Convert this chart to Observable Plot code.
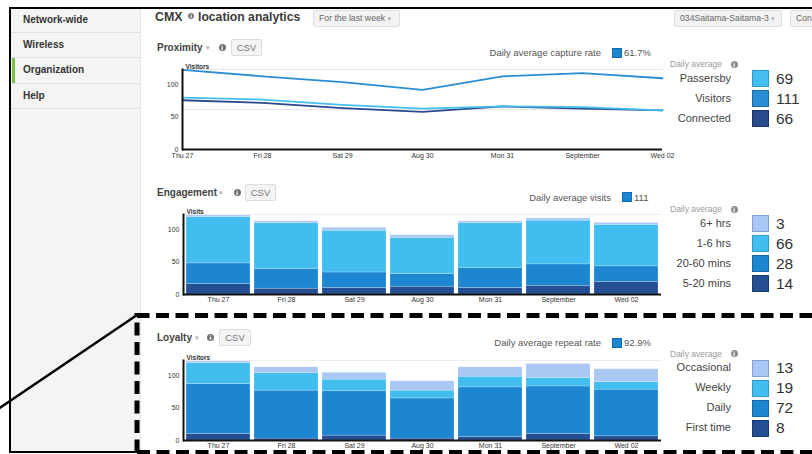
<!DOCTYPE html>
<html><head><meta charset="utf-8">
<script src="https://cdn.jsdelivr.net/npm/d3@7"></script>
<script src="https://cdn.jsdelivr.net/npm/@observablehq/plot@0.6"></script>
<style>
html,body{margin:0;padding:0;background:#fff;}
#root{position:relative;width:812px;height:454px;overflow:hidden;font-family:"Liberation Sans",Arial,sans-serif;background:#fff;}
.a{position:absolute;}
.clip{position:absolute;}
.clip svg{max-width:none !important;overflow:visible;}
</style></head>
<body><div id="root"></div>
<script>
// ---------- data ----------
const days = ["Thu 27","Fri 28","Sat 29","Aug 30","Mon 31","September","Wed 02"];
const yTicks = [0, 50, 100];
const yMax = 123.5;

const proxSeries = ["Passersby","Visitors","Connected"];
const proxColors = ["#45bff0","#2a8ed4","#294b8c"];
const passersby = [80, 77, 69, 63, 66.5, 65.5, 60.5];
const visitors  = [123, 113, 104, 92, 113, 118, 110];
const connected = [76, 72, 64, 58, 66.5, 63, 60.5];
const proxAvg = [69, 111, 66];
const captureRate = "61.7%";
const captureLine = 61.7;

const engGroups = ["5-20 mins","20-60 mins","1-6 hrs","6+ hrs"]; // bottom -> top
const engColors = ["#244f92","#1c87d0","#42bdef","#a9c8f4"];
const eng5to20  = [16, 9, 10, 12, 10, 13.5, 19.5];
const eng20to60 = [32, 30.5, 24, 19.5, 30.5, 33, 24];
const eng1to6   = [71.5, 70.5, 64.5, 56, 69.5, 67.5, 64];
const eng6plus  = [2.5, 3, 4.5, 4, 3, 3.5, 3];
const engAvg = [14, 28, 66, 3];
const avgVisits = "111";

const loyGroups = ["First time","Daily","Weekly","Occasional"]; // bottom -> top
const loyColors = ["#244f92","#1c87d0","#42bdef","#a9c8f4"];
const loyFirst      = [10, 3, 7.5, 3, 5.5, 10, 6.5];
const loyDaily      = [77, 74, 68.5, 62, 76.5, 73.5, 72];
const loyWeekly     = [32.5, 27, 18, 12, 16.5, 13, 11.5];
const loyOccasional = [2.5, 9, 10.5, 14.5, 14.5, 21.5, 20];
const loyAvg = [8, 72, 19, 13];
const repeatRate = "92.9%";

const navItems = ["Network-wide","Wireless","Organization","Help"];

// ---------- helpers ----------
const root = document.getElementById("root");
function el(css, text) {
  const d = document.createElement("div");
  d.className = "a";
  d.style.cssText += css;
  if (text != null) d.textContent = text;
  root.appendChild(d);
  return d;
}
function txt(s, x, cy, o = {}) {
  const fs = o.size || 10;
  const lh = Math.round(fs * 1.2);
  let css = `white-space:nowrap;line-height:${lh}px;top:${cy - lh/2}px;font-size:${fs}px;color:${o.color||"#444"};font-weight:${o.bold?"bold":"normal"};`;
  css += o.align === "right" ? `right:${812 - x}px;` : `left:${x}px;`;
  return el(css, s);
}
function info(cx, cy, d = 7, bg = "#6f6f6f") {
  return el(`left:${cx-d/2}px;top:${cy-d/2}px;width:${d}px;height:${d}px;border-radius:50%;background:${bg};color:#fff;font:bold ${d-1}px/${d}px "DejaVu Sans",sans-serif;text-align:center;`, "i");
}
function button(label, x, y, w, h, fs, caret) {
  const b = el(`left:${x}px;top:${y}px;width:${w}px;height:${h}px;background:#f3f3f3;border:1px solid #dedede;box-sizing:border-box;border-radius:2px;font-size:${fs}px;line-height:${h-2}px;color:#666;white-space:nowrap;overflow:hidden;padding-left:5px;`);
  b.textContent = label;
  if (caret) { const c = document.createElement("span"); c.textContent = " ▾"; c.style.cssText = "color:#aaa;font-size:7px;font-family:'DejaVu Sans';"; b.appendChild(c); }
  return b;
}
function csv(x, y, w) {
  return el(`left:${x}px;top:${y}px;width:${w}px;height:17px;background:#f4f4f4;border:1px solid #dcdcdc;box-sizing:border-box;border-radius:2px;font-size:9.5px;line-height:15px;color:#777;text-align:center;`, "CSV");
}
function square(x, y, s, fill, border) {
  return el(`left:${x}px;top:${y}px;width:${s}px;height:${s}px;background:${fill};border:1px solid ${border};box-sizing:border-box;`);
}
function caret(x, cy) { return txt("▾", x, cy, {size: 7, color: "#b0b0b0"}); }

// ---------- frame / sidebar ----------
el("left:10px;top:8px;width:130px;height:443px;background:#f4f4f4;border-right:1px solid #e4e4e4;");
const navTops = [8, 33, 58, 84];
navItems.forEach((n, i) => {
  el(`left:10px;top:${navTops[i]}px;width:130px;height:${i===2?25:24}px;border-bottom:1px solid #e0e0e0;`);
  txt(n, 23, navTops[i] + 12, {size: 10, bold: true, color: "#333"});
});
el("left:12px;top:58px;width:3px;height:25px;background:#7cc242;");
el("left:9px;top:6.5px;width:803px;height:2px;background:#000;");
el("left:9px;top:7px;width:2px;height:445px;background:#000;");
el("left:9px;top:450.5px;width:130px;height:2px;background:#000;");

// ---------- header ----------
txt("CMX", 155, 17, {size: 12.4, bold: true, color: "#3b3b3b"});
info(191, 15.5, 6, "#777");
txt("location analytics", 198, 17, {size: 12.2, bold: true, color: "#3b3b3b"});
button("For the last week", 313, 10, 87, 17, 8.7, true);
button("034Saitama-Saitama-3", 674, 10, 108, 17, 8.7, true);
button("Con", 790, 10, 40, 17, 8.7, false);

// ---------- section headers ----------
function sectionHeader(title, cy, caretX, infoX, csvX, csvW, sumLabel, sumRight, sumCy, sumVal) {
  txt(title, 157, cy, {size: 10, bold: true, color: "#444"});
  caret(caretX, cy);
  info(infoX, cy, 7);
  csv(csvX, cy - 8.5, csvW);
  txt(sumLabel, sumRight, sumCy, {size: 9.5, color: "#555", align: "right"});
  square(sumRight + 11, sumCy - 5, 10, "#1c87d0", "#1569ad");
  txt(sumVal, sumRight + 23, sumCy, {size: 9.5, color: "#555"});
}
sectionHeader("Proximity", 47.5, 206, 222, 231, 31, "Daily average capture rate", 601, 52.5, captureRate);
sectionHeader("Engagement", 192.5, 219, 237, 245, 31, "Daily average visits", 611, 197, avgVisits);
sectionHeader("Loyalty", 337.5, 195, 210.5, 219, 32, "Daily average repeat rate", 601, 342.5, repeatRate);

// ---------- side legends ----------
const borderOf = {"#45bff0":"#2a9bd0","#2a8ed4":"#1a6aa8","#294b8c":"#1b3366","#244f92":"#183a70","#1c87d0":"#1468aa","#42bdef":"#2a9bd0","#a9c8f4":"#7fa3d6"};
function legend(topCy, labels, colors, values) {
  txt("Daily average", 670, topCy, {size: 8.5, color: "#9a9a9a"});
  info(734, topCy, 7, "#8a8a8a");
  labels.forEach((l, i) => {
    const cy = topCy + 14 + i * 20;
    txt(l, 731, cy, {size: 11, color: "#444", align: "right"});
    square(752, cy - 8, 17, colors[i], borderOf[colors[i]] || "#555");
    txt(String(values[i]), 776, cy, {size: 15.5, color: "#333"});
  });
}
legend(64, proxSeries, proxColors, proxAvg);
legend(209, engGroups.slice().reverse(), engColors.slice().reverse(), engAvg.slice().reverse());
legend(353.5, loyGroups.slice().reverse(), loyColors.slice().reverse(), loyAvg.slice().reverse());

// ---------- charts ----------
const font = '"Liberation Sans", Arial, sans-serif';
function place(svg, x, y, w, h) {
  const box = document.createElement("div");
  box.className = "clip";
  box.style.cssText += `left:${x}px;top:${y}px;width:${w}px;height:${h}px;`;
  svg.style.maxWidth = "none";
  svg.style.overflow = "visible";
  box.appendChild(svg);
  root.appendChild(box);
}

// Proximity line chart
const proxData = [];
[connected, passersby, visitors].forEach((arr, k) => {
  const name = ["Connected","Passersby","Visitors"][k];
  days.forEach((d, i) => proxData.push({day: d, series: name, value: arr[i]}));
});
const prox = Plot.plot({
  width: 522, height: 108,
  marginLeft: 42, marginRight: 0, marginTop: 11, marginBottom: 17,
  style: {fontFamily: font, fontSize: "7px", color: "#333", background: "transparent", maxWidth: "none", overflow: "visible"},
  x: {type: "point", domain: days, padding: 0, label: null, tickSize: 0, tickPadding: 4},
  y: {domain: [0, yMax], ticks: yTicks, label: null, tickSize: 0, tickPadding: 4},
  color: {domain: proxSeries, range: proxColors},
  marks: [
    Plot.frame({anchor: "top", stroke: "#e6e6e6"}),
    Plot.ruleY([captureLine], {stroke: "#e6e6e6"}),
    Plot.line(proxData, {x: "day", y: "value", z: "series", stroke: "series", strokeWidth: 1.8}),
    Plot.ruleY([0], {stroke: "#111", strokeWidth: 2}),
    Plot.frame({anchor: "left", stroke: "#111", strokeWidth: 2}),
    Plot.text(["Visitors"], {frameAnchor: "top-left", dx: 3, dy: -1, lineAnchor: "bottom", textAnchor: "start", fontWeight: "bold", fontSize: 6.5})
  ]
});
place(prox, 140, 58, 522, 108);

function stacked(groups, colors, series, label) {
  const data = [];
  groups.forEach((g, gi) => days.forEach((d, di) => data.push({day: d, group: g, value: series[gi][di]})));
  return Plot.plot({
    width: 522, height: 104,
    marginLeft: 43, marginRight: 1, marginTop: 10, marginBottom: 14,
    style: {fontFamily: font, fontSize: "7px", color: "#333", background: "transparent", maxWidth: "none"},
    x: {domain: days, paddingInner: 0.055, paddingOuter: 0.02, label: null, tickSize: 0, tickPadding: 3},
    y: {domain: [0, yMax], ticks: yTicks, label: null, tickSize: 0, tickPadding: 4},
    color: {domain: groups, range: colors},
    marks: [
      Plot.frame({anchor: "top", stroke: "#ececec"}),
      Plot.barY(data, {x: "day", y: "value", fill: "group", stroke: "#ffffff", strokeOpacity: 0.35, strokeWidth: 0.6}),
      Plot.ruleY([0], {stroke: "#111", strokeWidth: 2}),
      Plot.frame({anchor: "left", stroke: "#111", strokeWidth: 2}),
      Plot.text([label], {frameAnchor: "top-left", dx: 3, dy: -1, lineAnchor: "bottom", textAnchor: "start", fontWeight: "bold", fontSize: 6.5})
    ]
  });
}
place(stacked(engGroups, engColors, [eng5to20, eng20to60, eng1to6, eng6plus], "Visits"), 140, 204, 522, 104);
place(stacked(loyGroups, loyColors, [loyFirst, loyDaily, loyWeekly, loyOccasional], "Visitors"), 140, 349.5, 522, 104);

// ---------- annotation overlay (dashed highlight box + pointer line) ----------
const ns = "http://www.w3.org/2000/svg";
const ov = document.createElementNS(ns, "svg");
ov.setAttribute("width", 812); ov.setAttribute("height", 454);
ov.style.cssText = "position:absolute;left:0;top:0;pointer-events:none;";
function path(d, w, dash) {
  const p = document.createElementNS(ns, "path");
  p.setAttribute("d", d);
  p.setAttribute("fill", "none"); p.setAttribute("stroke", "#000");
  p.setAttribute("stroke-width", w);
  if (dash) p.setAttribute("stroke-dasharray", dash);
  ov.appendChild(p);
}
path("M137 452.5 V315.5 H830", 5, "13 6.5");
path("M137 452.5 H830", 5, "13 6.5");
path("M-2 409 L137 315", 2.5);
root.appendChild(ov);
</script>
</body></html>
